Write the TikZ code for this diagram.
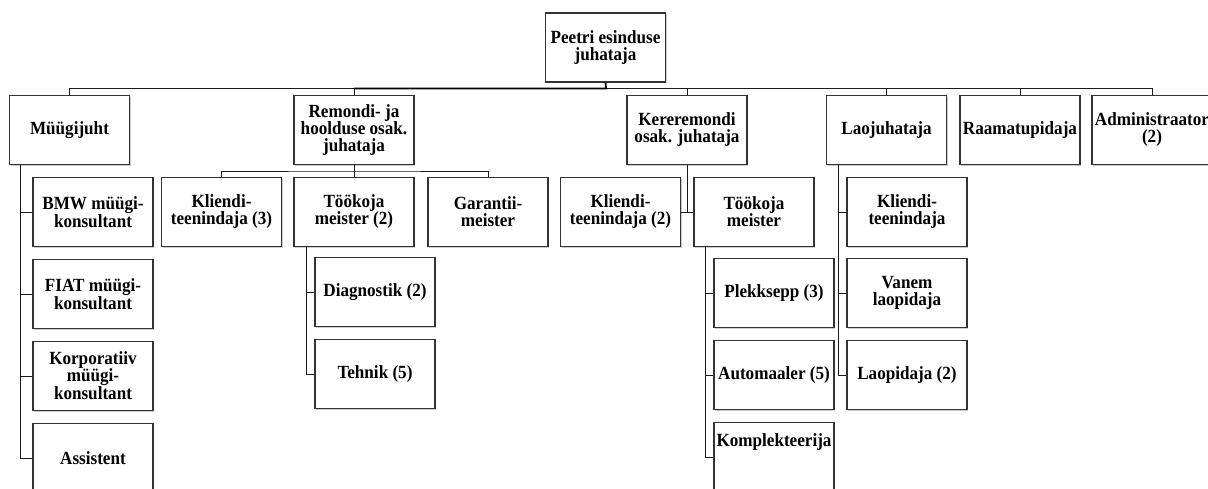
\documentclass[tikz,border=0pt]{standalone}
\usepackage{fontspec}
\newfontfamily\orgfont{Liberation Serif}[FakeStretch=0.92]
\usetikzlibrary{shadows}
\begin{document}
\begin{tikzpicture}[x=1pt,y=-1pt,
  box/.style={draw=black!80, line width=1.8pt, fill=white, inner sep=0pt,
    minimum width=120pt, minimum height=69pt, align=center,
    font=\orgfont\bfseries\fontsize{18.6}{17}\selectfont,
    drop shadow={shadow xshift=1pt, shadow yshift=-1pt, fill=black!40, opacity=.5}},
  txt/.style={inner sep=0pt, align=center, font=\orgfont\bfseries\fontsize{18.6}{17}\selectfont},
  link/.style={draw=black!90, line width=1pt},
  mainlink/.style={draw=black, line width=1.9pt}]
\useasboundingbox (0,0) rectangle (1208,488);

% head of the office
\node[box] (top) at (605.5,47.5) {Peetri esinduse\\juhataja};

% department heads
\node[box] (mg)  at (69.5,130) {Müügijuht};
\node[box] (rem) at (354,130)  {Remondi- ja\\hoolduse osak.\\juhataja};
\node[box] (ker) at (687,130)  {Kereremondi\\osak. juhataja};
\node[box] (lao) at (886.5,130){Laojuhataja};
\node[box] (raa) at (1020,130) {Raamatupidaja};
\node[box] (adm) at (1152,130) {Administraator\\(2)};

% sales
\node[box] (bmw)  at (93,212) {BMW müügi-\\konsultant};
\node[box] (fiat) at (93,294) {FIAT müügi-\\konsultant};
\node[box] (korp) at (93,376) {Korporatiiv\\müügi-\\konsultant};
\node[box] (asst) at (93,458) {Assistent};

% repair and maintenance
\node[box] (kl3) at (221.5,212) {Kliendi-\\teenindaja (3)};
\node[box] (tm2) at (354,212)   {Töökoja\\meister (2)};
\node[box] (gar) at (488,212)   {Garantii-\\meister};
\node[box] (diag) at (375,292)  {Diagnostik (2)};
\node[box] (teh)  at (375,374)  {Tehnik (5)};

% body repair
\node[box] (kl2) at (620.5,212) {Kliendi-\\teenindaja (2)};
\node[box] (tk)  at (754,212)   {Töökoja\\meister};
\node[box] (plek) at (774,293)  {Plekksepp (3)};
\node[box] (auto) at (774,375)  {Automaaler (5)};
\node[box] (komp) at (774,457)  {};
\node[txt] (kompt) at (774,442) {Komplekteerija};

% warehouse
\node[box] (kll) at (907,212) {Kliendi-\\teenindaja};
\node[box] (vlp) at (907,293) {Vanem\\laopidaja};
\node[box] (lp2) at (907,375) {Laopidaja (2)};

% top level bus
\coordinate (bus) at (606,88.5);
\draw[link] (mg.north) |- (bus) -| (adm.north);
\draw[link] (ker.north) -- (ker.north |- bus);
\draw[link] (lao.north) -- (lao.north |- bus);
\draw[link] (raa.north) -- (raa.north |- bus);
\draw[mainlink] (rem.north |- bus) -- (bus) -- (top.south);
\draw[link] (rem.north) -- (rem.north |- bus);

% sales links
\foreach \c in {bmw,fiat,korp,asst}
  \draw[link] ([xshift=12pt]mg.south west) |- (\c.west);

% repair links
\coordinate (rbus) at (354,171);
\draw[link] (kl3.north) |- (rbus) -| (gar.north);
\draw[link] (rem.south) -- (tm2.north);
\foreach \c in {diag,teh}
  \draw[link] ([xshift=13pt]tm2.south west) |- (\c.west);

% body repair links
\draw[link] (ker.south) -- (ker.south |- kl2.east);
\draw[link] (kl2.east) -- (tk.west);
\foreach \c in {plek,auto,komp}
  \draw[link] ([xshift=12.5pt]tk.south west) |- (\c.west);

% warehouse links
\foreach \c in {kll,vlp,lp2}
  \draw[link] ([xshift=12.5pt]lao.south west) |- (\c.west);
\end{tikzpicture}
\end{document}
